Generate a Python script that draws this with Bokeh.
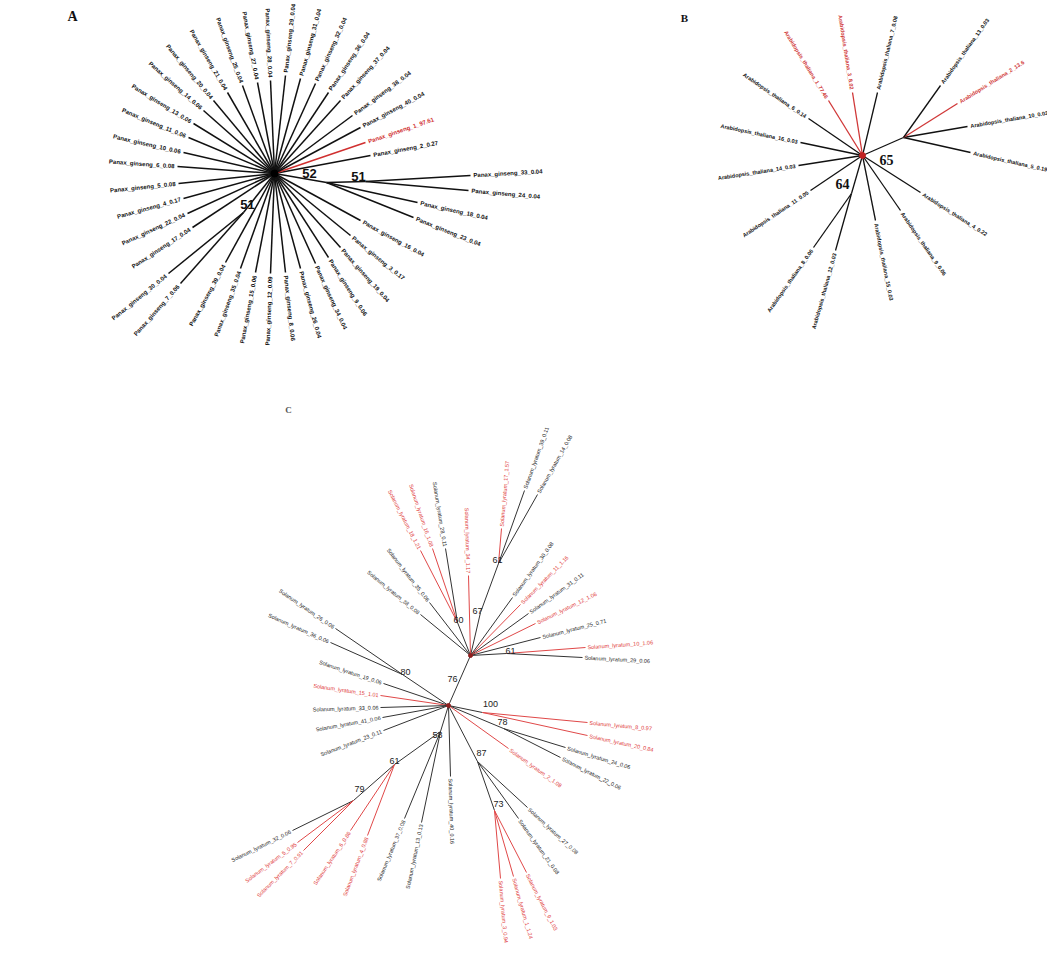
import math
from bokeh.plotting import figure
from bokeh.models import Range1d, ColumnDataSource
from bokeh.core.properties import value
from bokeh.embed import file_html
from bokeh.resources import INLINE

# ------------------------------------------------------------------ data
A_labels = ["Panax_ginseng_10_0.06", "Panax_ginseng_6_0.08", "Panax_ginseng_5_0.08",
            "Panax_ginseng_4_0.17", "Panax_ginseng_22_0.04", "Panax_ginseng_17_0.04",
            "Panax_ginseng_30_0.04", "Panax_ginseng_7_0.06", "Panax_ginseng_39_0.04",
            "Panax_ginseng_35_0.04", "Panax_ginseng_15_0.06", "Panax_ginseng_12_0.09",
            "Panax_ginseng_8_0.06", "Panax_ginseng_26_0.04", "Panax_ginseng_34_0.04",
            "Panax_ginseng_9_0.06", "Panax_ginseng_19_0.04", "Panax_ginseng_3_0.17",
            "Panax_ginseng_16_0.04", "Panax_ginseng_23_0.04", "Panax_ginseng_18_0.04",
            "Panax_ginseng_24_0.04", "Panax_ginseng_33_0.04", "Panax_ginseng_2_0.27",
            "Panax_ginseng_1_97.61", "Panax_ginseng_40_0.04", "Panax_ginseng_38_0.04",
            "Panax_ginseng_37_0.04", "Panax_ginseng_36_0.04", "Panax_ginseng_32_0.04",
            "Panax_ginseng_31_0.04", "Panax_ginseng_29_0.04", "Panax_ginseng_28_0.04",
            "Panax_ginseng_27_0.04", "Panax_ginseng_25_0.04", "Panax_ginseng_21_0.04",
            "Panax_ginseng_20_0.04", "Panax_ginseng_14_0.06", "Panax_ginseng_13_0.06",
            "Panax_ginseng_11_0.06"]
A_red = [False] * 24 + [True] + [False] * 15
A_boot = ["52", "51", "51"]

B_labels = ["Arabidopsis_thaliana_6_0.14", "Arabidopsis_thaliana_16_0.03",
            "Arabidopsis_thaliana_14_0.03", "Arabidopsis_thaliana_11_0.05",
            "Arabidopsis_thaliana_8_0.06", "Arabidopsis_thaliana_12_0.03",
            "Arabidopsis_thaliana_15_0.03", "Arabidopsis_thaliana_9_0.06",
            "Arabidopsis_thaliana_4_0.22", "Arabidopsis_thaliana_5_0.19",
            "Arabidopsis_thaliana_10_0.03", "Arabidopsis_thaliana_2_13.6",
            "Arabidopsis_thaliana_13_0.03", "Arabidopsis_thaliana_7_0.08",
            "Arabidopsis_thaliana_3_8.02", "Arabidopsis_thaliana_1_77.46"]
B_red = [False] * 11 + [True, False, False, True, True]
B_boot = ["65", "64"]

C_labels = ["Solanum_lyratum_18_1.21", "Solanum_lyratum_16_1.08", "Solanum_lyratum_28_0.11",
            "Solanum_lyratum_34_1.17", "Solanum_lyratum_17_1.57", "Solanum_lyratum_39_0.11",
            "Solanum_lyratum_14_0.08", "Solanum_lyratum_38_0.08", "Solanum_lyratum_35_0.06",
            "Solanum_lyratum_30_0.08", "Solanum_lyratum_11_1.16", "Solanum_lyratum_31_0.11",
            "Solanum_lyratum_12_1.06", "Solanum_lyratum_25_0.71", "Solanum_lyratum_10_1.06",
            "Solanum_lyratum_29_0.06", "Solanum_lyratum_26_0.06", "Solanum_lyratum_36_0.06",
            "Solanum_lyratum_19_0.06", "Solanum_lyratum_15_1.01", "Solanum_lyratum_33_0.06",
            "Solanum_lyratum_41_0.06", "Solanum_lyratum_23_0.11", "Solanum_lyratum_37_0.08",
            "Solanum_lyratum_13_0.13", "Solanum_lyratum_6_0.86", "Solanum_lyratum_4_0.88",
            "Solanum_lyratum_32_0.06", "Solanum_lyratum_5_0.95", "Solanum_lyratum_7_0.91",
            "Solanum_lyratum_40_0.16", "Solanum_lyratum_27_0.08", "Solanum_lyratum_21_0.08",
            "Solanum_lyratum_3_0.94", "Solanum_lyratum_1_1.24", "Solanum_lyratum_9_1.03",
            "Solanum_lyratum_8_0.97", "Solanum_lyratum_20_0.84", "Solanum_lyratum_24_0.06",
            "Solanum_lyratum_22_0.06", "Solanum_lyratum_2_1.08"]
C_red = [True, True, False, True, True, False, False, False, False,
         False, True, False, True, False, True, False, False, False,
         False, True, False, False, False, False, False, True, True,
         False, True, True, False, False, False, True, True, True,
         True, True, False, False, True]
C_boot = ["76", "60", "67", "61", "61", "80", "58", "61", "79", "87", "73", "100", "78"]

# ------------------------------------------------------------------ layout (page pixels)
A_nodes = {"root": (274, 173, None), "n51a": (243, 212, "root"),
           "n52": (326, 182, "root"), "n51b": (365, 181, "n52")}
A_tip_parent = ["root"] * 6 + ["n51a"] * 2 + ["root"] * 11 + ["n52"] * 2 + ["n51b"] * 2 + ["root"] * 17
A_tip_xy = [(183, 152), (177, 166), (178, 183), (183, 198), (187, 213), (192, 227),
            (168, 273), (180, 283), (225, 262), (240, 268), (255, 272), (270, 273),
            (285, 272), (300, 268), (315, 263), (328, 257), (340, 247), (350, 235),
            (360, 220), (413, 217), (417, 202), (468, 190), (470, 175), (370, 155),
            (365, 142), (360, 127), (352, 115), (340, 100), (328, 92), (315, 83),
            (300, 78), (285, 75), (270, 80), (257, 82), (242, 85), (227, 92),
            (213, 100), (203, 110), (193, 123), (188, 137)]
A_boot_xy = [(309, 173), (358, 176), (247, 204)]

B_nodes = {"root": (862, 155, None), "nR": (903, 137, "root"), "n64": (851, 193, "root")}
B_tip_parent = ["root"] * 4 + ["n64"] * 2 + ["root"] * 3 + ["nR"] * 4 + ["root"] * 3
B_tip_xy = [(808, 118), (800, 142), (798, 165), (810, 190), (813, 247), (835, 250),
            (875, 220), (900, 210), (920, 192), (970, 152), (967, 126), (957, 103),
            (940, 85), (877, 92), (852, 92), (828, 100)]
B_boot_xy = [(886, 159), (842, 183)]

C_nodes = {"U": (470, 655, None), "L": (448, 705, "U"),
           "n60": (457, 622, "U"), "n67": (480, 612, "U"), "n61a": (498, 563, "n67"),
           "n61b": (506, 653, "U"), "n80": (402, 674, "L"), "n58": (440, 731, "L"),
           "n61c": (394, 764, "n58"), "n79": (353, 800, "n61c"), "n87": (477, 761, "L"),
           "n73": (494, 810, "n87"), "n100": (482, 712, "L"), "n78": (503, 728, "L")}
C_tip_parent = ["n60"] * 3 + ["U"] + ["n61a"] * 3 + ["U"] * 7 + ["n61b"] * 2 + \
               ["n80"] * 2 + ["L"] * 5 + ["n58"] * 2 + ["n61c"] * 2 + ["n79"] * 3 + \
               ["L"] + ["n87"] * 2 + ["n73"] * 3 + ["n100"] * 2 + ["n78"] * 2 + ["L"]
C_tip_xy = [(420, 550), (432, 548), (445, 548), (468, 575), (501, 528), (524, 490),
            (537, 494), (420, 614), (429, 602), (512, 597), (520, 604), (528, 613),
            (535, 623), (540, 637), (585, 647), (582, 657), (335, 628), (330, 642),
            (383, 683), (380, 695), (380, 707), (382, 717), (383, 730), (404, 818),
            (421, 822), (350, 830), (367, 835), (292, 830), (297, 842), (303, 850),
            (450, 776), (527, 807), (518, 818), (500, 878), (513, 876), (526, 872),
            (587, 722), (587, 735), (565, 747), (560, 757), (508, 748)]
C_boot_xy = [(452, 678), (458, 619), (477, 610), (497, 559), (510, 650), (405, 671),
             (437, 734), (394, 760), (359, 788), (481, 752), (498, 803), (490, 703),
             (502, 721)]

W, H = 1047, 954
p = figure(width=W, height=H, x_range=Range1d(0, W), y_range=Range1d(H, 0),
           output_backend="svg", toolbar_location=None, min_border=0)
p.axis.visible = False
p.grid.visible = False
p.outline_line_color = None
p.background_fill_color = "white"


def draw_tree(nodes, tip_parent, tip_xy, labels, red, font, size, style, lw,
              black, redc, gap, txt_black, txt_red):
    seg = dict(x0=[], y0=[], x1=[], y1=[], c=[])
    for k, (x, y, par) in nodes.items():
        if par is not None:
            px, py = nodes[par][0], nodes[par][1]
            seg["x0"].append(px); seg["y0"].append(py)
            seg["x1"].append(x); seg["y1"].append(y); seg["c"].append(black)
    L = dict(x=[], y=[], t=[], a=[], c=[])
    R = dict(x=[], y=[], t=[], a=[], c=[])
    for par, (x, y), lab, r in zip(tip_parent, tip_xy, labels, red):
        px, py = nodes[par][0], nodes[par][1]
        seg["x0"].append(px); seg["y0"].append(py)
        seg["x1"].append(x); seg["y1"].append(y); seg["c"].append(redc if r else black)
        dx, dy = x - px, y - py
        d = math.hypot(dx, dy)
        ux, uy = dx / d, dy / d
        th = math.atan2(-dy, dx)
        tx, ty = x + gap * ux, y + gap * uy
        if dx >= 0:
            tgt, ang = L, th
        else:
            tgt, ang = R, th + math.pi
        tgt["x"].append(tx); tgt["y"].append(ty); tgt["t"].append(lab)
        tgt["a"].append(ang); tgt["c"].append(txt_red if r else txt_black)
    p.segment("x0", "y0", "x1", "y1", source=ColumnDataSource(seg), line_color="c",
              line_width=lw)
    for src, al in ((L, "left"), (R, "right")):
        p.text("x", "y", text="t", angle="a", text_color="c", source=ColumnDataSource(src),
               text_align=al, text_baseline="middle", text_font=value(font),
               text_font_size=size, text_font_style=style)


draw_tree(A_nodes, A_tip_parent, A_tip_xy, A_labels, A_red, "Liberation Sans", "6px", "bold",
          1.5, "#111111", "#d03030", 3, "#111111", "#d03030")
draw_tree(B_nodes, B_tip_parent, B_tip_xy, B_labels, B_red, "Liberation Sans", "5.5px", "bold",
          1.3, "#111111", "#d03838", 3, "#111111", "#d03838")
draw_tree(C_nodes, C_tip_parent, C_tip_xy, C_labels, C_red, "Liberation Sans", "5.5px", "normal",
          1.0, "#333333", "#e04848", 2, "#222222", "#e03838")

p.scatter([A_nodes["root"][0]], [A_nodes["root"][1]], size=7, color="#000000")
p.scatter([B_nodes["root"][0]], [B_nodes["root"][1]], size=6, color="#c02020")
p.scatter([C_nodes["U"][0], C_nodes["L"][0]], [C_nodes["U"][1], C_nodes["L"][1]],
          size=4, color="#902020")

for vals, xy, font, size, style, col in (
        (A_boot, A_boot_xy, "Liberation Sans", "13px", "bold", "#111111"),
        (B_boot, B_boot_xy, "Liberation Serif", "14px", "bold", "#111111"),
        (C_boot, C_boot_xy, "Liberation Sans", "9px", "normal", "#222222")):
    p.text([q[0] for q in xy], [q[1] for q in xy], text=vals, text_align="center",
           text_baseline="middle", text_font=value(font), text_font_size=size,
           text_font_style=style, text_color=col)

p.text([72], [16], text=["A"], text_align="center", text_baseline="middle",
       text_font=value("Liberation Serif"), text_font_size="14px",
       text_font_style="bold", text_color="#111111")
p.text([684], [17], text=["B"], text_align="center", text_baseline="middle",
       text_font=value("Liberation Serif"), text_font_size="11px",
       text_font_style="bold", text_color="#111111")
p.text([288], [409], text=["C"], text_align="center", text_baseline="middle",
       text_font=value("Liberation Serif"), text_font_size="9px",
       text_font_style="bold", text_color="#555555")

open("out.html", "w").write(file_html(p, INLINE))
